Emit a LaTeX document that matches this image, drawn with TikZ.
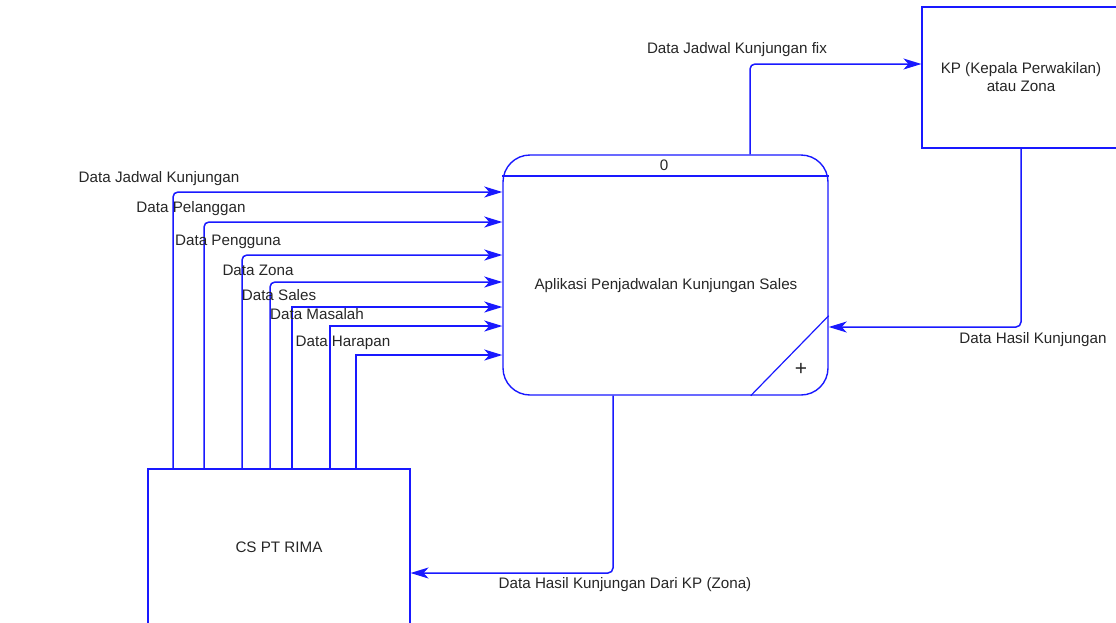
\documentclass[tikz,border=0pt]{standalone}
\usepackage{fontspec}
\setmainfont{Liberation Sans}
\usetikzlibrary{arrows.meta, calc, positioning}
\definecolor{dfdblue}{RGB}{25,25,255}

\begin{document}
\begin{tikzpicture}[x=1pt, y=-1pt, >={Stealth[length=18pt, width=11pt, inset=5pt]},
  font=\fontsize{15.2}{18}\selectfont, text=black!85,
  entity/.style={draw=dfdblue, line width=1.1pt, inner sep=0pt, align=center},
  process/.style={draw=dfdblue, line width=1.4pt, rounded corners=27pt,
    minimum width=325pt, minimum height=240pt, inner sep=0pt},
  flow/.style={->, draw=dfdblue, line width=1.5pt},
  bent/.style={flow, rounded corners=5pt}]
  \useasboundingbox (0,0) rectangle (1116,622);

  % entities and process
  \node[entity, minimum width=198pt, minimum height=141pt] (kp) at (1021,77.5)
    {KP (Kepala Perwakilan)\\atau Zona};
  \node[entity, minimum width=262pt, minimum height=156pt] (cs) at (279,547) {CS PT RIMA};
  \node[process] (proc) at (665.5,275) {};
  \draw[dfdblue, line width=1.4pt] (proc.west |- 0,176) -- (proc.east |- 0,176);
  \draw[dfdblue, line width=1.2pt] ($(proc.south east)+(-78,0)$) -- ($(proc.south east)+(0,-80)$);
  \node (procnum) at (664,165) {0};
  \node (procname) at (666,286) {Aplikasi Penjadwalan Kunjungan Sales};
  \node[font=\fontsize{21}{21}\selectfont] (procplus) at (801,369) {+};

  % input flows
  \draw[bent] (cs.north -| 173,0) |- (proc.west |- 0,192);
  \draw[bent] (cs.north -| 204,0) |- (proc.west |- 0,222);
  \draw[bent] (cs.north -| 242,0) |- (proc.west |- 0,255);
  \draw[bent] (cs.north -| 270,0) |- (proc.west |- 0,282);
  \draw[flow] (cs.north -| 292,0) |- (proc.west |- 0,307);
  \draw[flow] (cs.north -| 330,0) |- (proc.west |- 0,326);
  \draw[flow] (cs.north -| 356,0) |- (proc.west |- 0,355);
  \node (lbljadwal) at (159,179) {Data Jadwal Kunjungan};
  \node (lblpelanggan) at (191,209) {Data Pelanggan};
  \node (lblpengguna) at (228,242) {Data Pengguna};
  \node (lblzona) at (258,270) {Data Zona};
  \node (lblsales) at (279,295) {Data Sales};
  \node (lblmasalah) at (317,314) {Data Masalah};
  \node (lblharapan) at (343,343) {Data Harapan};

  % output flows
  \draw[bent] (proc.north -| 750,0) |- (kp.west |- 0,64);
  \draw[bent] (kp.south -| 1021,0) |- (proc.east |- 0,327);
  \draw[bent] (proc.south -| 613,0) |- (cs.east |- 0,573);
  \node (lblfix) at (737,50) {Data Jadwal Kunjungan fix};
  \node (lblhasil) at (1033,340) {Data Hasil Kunjungan};
  \node (lblhasilkp) at (625,585) {Data Hasil Kunjungan Dari KP (Zona)};
\end{tikzpicture}
\end{document}
